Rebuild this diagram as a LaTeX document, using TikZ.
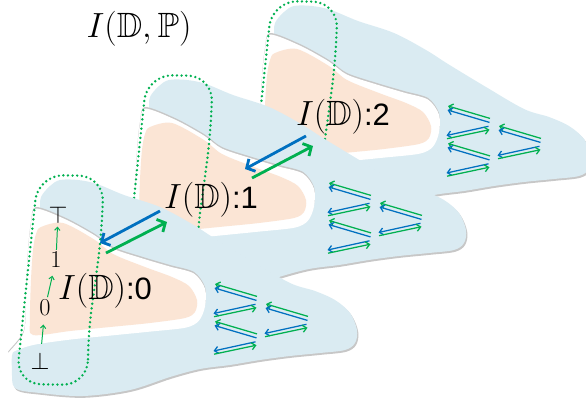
\documentclass[tikz,border=0pt]{standalone}
\usepackage{amssymb}
\usepackage{fontspec}
\newfontfamily\labelsans{Liberation Sans}
\usetikzlibrary{arrows.meta}

\definecolor{paperblue}{RGB}{218,235,242}
\definecolor{paperpeach}{RGB}{251,229,213}
\definecolor{ringgreen}{RGB}{0,176,80}
\definecolor{linkblue}{RGB}{0,112,192}
\definecolor{linkgreen}{RGB}{0,176,80}

% torn blue sheet of one layer (drawn at the front position)
\def\paperoutline{plot[smooth cycle, tension=0.55] coordinates {(40,210) (41,197) (50,186) (60,180) (78,180) (97,184) (124,195) (160,207) (192,224) (214,238) (252,261) (290,283) (315,291) (335,300) (350,313) (357,330) (355,343) (345,350) (320,353) (290,356) (260,360) (230,365) (200,369) (170,377) (130,390) (83,396) (40,393) (15,388) (12,370) (13,352) (25,346) (32,320) (34,260) (38,225)}}
% white tear around the inner region
\def\tearoutline{plot[smooth cycle, tension=0.5] coordinates {(36,207) (66,218) (95,234) (113,247) (143,257) (170,265) (194,272) (205,287) (205,305) (199,319) (186,326) (150,330) (110,334) (70,338) (35,343) (18,348) (8,352) (24,330) (26,290) (28,250) (31,222)}}
% inner peach region
\def\peachoutline{plot[smooth cycle, tension=0.5] coordinates {(41,227) (63,223) (95,240) (113,254) (145,267) (172,277) (189,286) (197,300) (195,312) (185,318) (150,323) (110,327) (70,331) (33,335) (30,320) (31,280) (33,250) (36,234)}}
% dotted capsule enclosing the chain of one layer
\def\ringoutline{[rounded corners=18pt] (38,175) -- (104,176) -- (101,240) -- (88,335) -- (88,385) -- (16,384) -- (28,270) -- cycle}

\tikzset{
  dotring/.style={draw=ringgreen, line width=1.9pt, dash pattern=on 0pt off 3.3pt, line cap=round},
  slimarrow/.style={line width=0.9pt, -{Straight Barb[length=2.8pt,width=5pt]}},
  layerlink/.style={line width=2pt, -{Straight Barb[length=4.5pt,width=10pt]}},
  chainlink/.style={draw=linkgreen, line width=0.7pt, -{Straight Barb[length=2.2pt,width=3.8pt]}},
  biglabel/.style={inner sep=0pt, font=\fontsize{25}{30}\selectfont},
  chainlabel/.style={inner sep=0pt, font=\fontsize{17}{20}\selectfont},
}

\newcommand\paperlayer{%
  \fill[black!22, shift={(1.2,1.8)}] \paperoutline;
  \fill[paperblue] \paperoutline;
  \fill[black!22] \tearoutline;
  \fill[white, shift={(0,1.6)}] \tearoutline;
  \fill[paperpeach] \peachoutline;
  \draw[dotring] \ringoutline;
}

% one ">" made of two pairs of parallel arrows
\newcommand\chevron[2]{%
  \begin{scope}[shift={(#1,#2)}]
    \draw[slimarrow, linkgreen] (42,12.4) -- (0,0);
    \draw[slimarrow, linkblue] (41.5,16.4) -- (-0.5,4);
    \draw[slimarrow, linkblue] (40.5,20.3) -- (-1.5,29.5);
    \draw[slimarrow, linkgreen] (-1,32.7) -- (41.5,23.7);
  \end{scope}}
\newcommand\chevrons[2]{%
  \begin{scope}[shift={(#1,#2)}]
    \chevron{0}{0}\chevron{0}{37.5}\chevron{51}{20}
  \end{scope}}

\begin{document}
\begin{tikzpicture}[x=0.025cm, y=-0.025cm]
\useasboundingbox (0,0) rectangle (586,401);

% back layer
\begin{scope}[shift={(234,-174)}]
  \paperlayer
\end{scope}
\chevrons{448}{106}

% middle layer
\begin{scope}[shift={(109,-100)}]
  \paperlayer
\end{scope}
\chevrons{329}{183}

% front layer
\paperlayer
\chevrons{215}{284}

% labels
\node[biglabel] (title) at (139,29) {$I(\mathbb{D},\mathbb{P})$};
\node[biglabel] (lab0) at (105,291) {$I(\mathbb{D})${\labelsans\fontsize{22}{26}\selectfont :0}};
\node[biglabel] (lab1) at (211,200) {$I(\mathbb{D})${\labelsans\fontsize{22}{26}\selectfont :1}};
\node[biglabel] (lab2) at (343,117) {$I(\mathbb{D})${\labelsans\fontsize{22}{26}\selectfont :2}};

% chain bottom < 0 < 1 < top
\node[chainlabel] (bot) at (40,361) {$\bot$};
\node[chainlabel] (n0) at (45,308) {$0$};
\node[chainlabel] (n1) at (56,260) {$1$};
\node[chainlabel] (topn) at (58,215) {$\top$};
\draw[chainlink, shorten <=6pt, shorten >=6pt] (bot) -- (n0);
\draw[chainlink, shorten <=2pt, shorten >=5.5pt] (n0) -- (n1);
\draw[chainlink, shorten <=1.5pt, shorten >=2pt] (n1) -- (topn);

% links between consecutive layers
\coordinate (d10s) at (160,211);
\coordinate (d10e) at (100,243);
\coordinate (u01s) at (106,253);
\coordinate (u01e) at (167,222);
\coordinate (d21s) at (306,136);
\coordinate (d21e) at (245,169);
\coordinate (u12s) at (252,178);
\coordinate (u12e) at (313,146);
\draw[layerlink, linkblue] (d10s) -- (d10e);
\draw[layerlink, linkgreen] (u01s) -- (u01e);
\draw[layerlink, linkblue] (d21s) -- (d21e);
\draw[layerlink, linkgreen] (u12s) -- (u12e);
\end{tikzpicture}
\end{document}
